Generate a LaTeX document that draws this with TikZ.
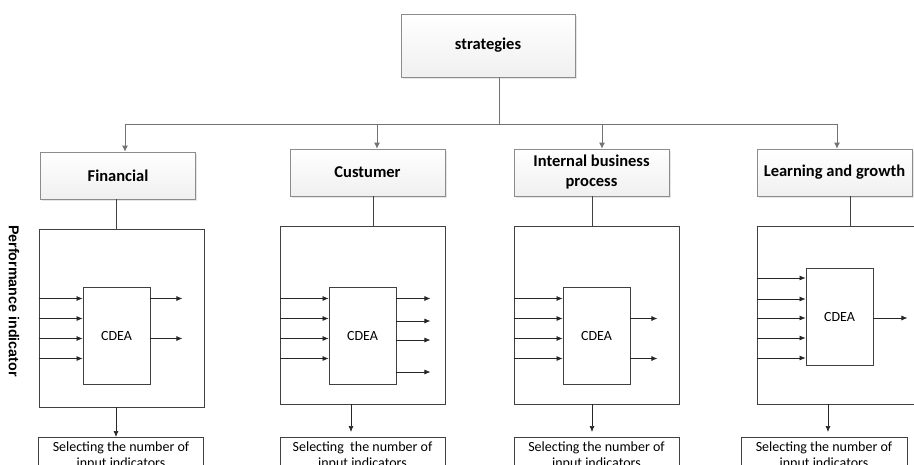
\documentclass[tikz,border=0pt]{standalone}
\usepackage{fontspec}
\setmainfont{Carlito}
\newfontfamily\arialfont{Liberation Sans}
\usetikzlibrary{arrows.meta,positioning,calc,shadows}

\begin{document}
\begin{tikzpicture}[
  x=1pt, y=-1pt,
  persp/.style={draw=gray!90, line width=0.8pt, top color=white, bottom color=gray!12, minimum width=155pt, minimum height=47pt, align=center, inner sep=2pt, font=\bfseries\fontsize{16.5}{20}\selectfont, drop shadow={opacity=0.2, shadow xshift=1.5pt, shadow yshift=-1.5pt}},
  pframe/.style={draw=black!75, line width=0.8pt, minimum width=165pt, minimum height=178pt},
  cdea/.style={draw=black!75, line width=0.8pt, minimum width=67pt, minimum height=97pt, font=\fontsize{14}{16}\selectfont},
  selbox/.style={draw=black!75, line width=0.8pt, anchor=north, minimum width=165pt, minimum height=36pt, inner ysep=0.5pt, align=center, font=\fontsize{14}{16}\selectfont},
  conn/.style={draw=black!55, line width=0.8pt},
  tarr/.style={conn, -{Latex[length=6pt,width=6pt]}},
  io/.style={draw=black!85, line width=0.7pt, -{Latex[length=6pt,width=5pt]}},
  vline/.style={draw=black!75, line width=0.8pt}
]
\clip (0,0) rectangle (914,464);

% Strategy and perspectives
\node[persp, minimum width=174pt, minimum height=63pt] (strat) at (488,45.5) {strategies};
\node[persp] (fin) at (118,175.5) {Financial};
\node[persp] (cus) at (367.5,172.5) {Custumer};
\node[persp] (ibp) at (591.5,172.5) {Internal business\\process};
\node[persp] (lag) at (834.5,172.5) {Learning and growth};

% Side label
\node[rotate=-90, font=\arialfont\bfseries\fontsize{14.3}{17}\selectfont] (perf) at (14,301) {Performance indicator};

% Frames
\node[pframe] (finframe) at (121.5,318) {};
\node[pframe] (cusframe) at (362.5,315) {};
\node[pframe] (ibpframe) at (596.5,315) {};
\node[pframe] (lagframe) at (839.5,315) {};

% CDEA models
\node[cdea] (fincdea) at (116.5,335.5) {CDEA};
\node[cdea] (cuscdea) at (362.5,335.5) {CDEA};
\node[cdea] (ibpcdea) at (596.5,335.5) {CDEA};
\node[cdea] (lagcdea) at (839.5,317) {CDEA};

% Selection boxes
\node[selbox] (finsel) at (121,437) {Selecting the number of\\input indicators};
\node[selbox] (cussel) at (362.5,437) {Selecting\ \ the number of\\input indicators};
\node[selbox] (ibpsel) at (596.5,437) {Selecting the number of\\input indicators};
\node[selbox, minimum width=166pt] (lagsel) at (824,437) {Selecting the number of\\input indicators};

% Strategy tree
\coordinate (bus) at (499,124);
\draw[conn] (strat.south -| bus) -- (bus);
\draw[tarr] (bus) -| ([xshift=7pt]fin.north);
\draw[tarr] (bus) -| ([xshift=9.5pt]cus.north);
\draw[tarr] (bus) -| ([xshift=10.5pt]ibp.north);
\draw[tarr] (bus) -| ([xshift=2.5pt]lag.north);

% Perspective to frame
\draw[vline] ($(fin.south)+(-2,0)$) -- ($(fin.south |- finframe.north)+(-2,0)$);
\draw[vline] ($(cus.south)+(5.5,0)$) -- ($(cus.south |- cusframe.north)+(5.5,0)$);
\draw[vline] ($(ibp.south)+(0.5,0)$) -- ($(ibp.south |- ibpframe.north)+(0.5,0)$);
\draw[vline] ($(lag.south)+(15.5,0)$) -- ($(lag.south |- lagframe.north)+(15.5,0)$);

% Inputs and outputs
\foreach \d in {-37,-17,3,23}
  \draw[io] ($(finframe.west |- fincdea.west)+(0,\d)$) -- ($(fincdea.west)+(0,\d)$);
\foreach \d in {-37,3}
  \draw[io] ($(fincdea.east)+(0,\d)$) -- ++(32,0);

\foreach \d in {-37,-17,3,23}
  \draw[io] ($(cusframe.west |- cuscdea.west)+(0,\d)$) -- ($(cuscdea.west)+(0,\d)$);
\foreach \d in {-37,-14.5,4.5,36.5}
  \draw[io] ($(cuscdea.east)+(0,\d)$) -- ++(34,0);

\foreach \d in {-37,-17,3,23}
  \draw[io] ($(ibpframe.west |- ibpcdea.west)+(0,\d)$) -- ($(ibpcdea.west)+(0,\d)$);
\foreach \d in {-17,23}
  \draw[io] ($(ibpcdea.east)+(0,\d)$) -- ++(27,0);

\foreach \d in {-39,-18,1,21,41}
  \draw[io] ($(lagframe.west |- lagcdea.west)+(0,\d)$) -- ($(lagcdea.west)+(0,\d)$);
\draw[io] ($(lagcdea.east)+(0,1)$) -- ++(34,0);

% Frame to selection
\draw[io] ($(finframe.south)+(-5.5,0)$) -- ($(finframe.south |- finsel.north)+(-5.5,0)$);
\draw[io, shorten >=5pt] ($(cusframe.south)+(-11.5,0)$) -- ($(cusframe.south |- cussel.north)+(-11.5,0)$);
\draw[io, shorten >=5pt] ($(ibpframe.south)+(-4.5,0)$) -- ($(ibpframe.south |- ibpsel.north)+(-4.5,0)$);
\draw[io, shorten >=5pt] ($(lagframe.south)+(-11.5,0)$) -- ($(lagframe.south |- lagsel.north)+(-11.5,0)$);
\end{tikzpicture}
\end{document}
